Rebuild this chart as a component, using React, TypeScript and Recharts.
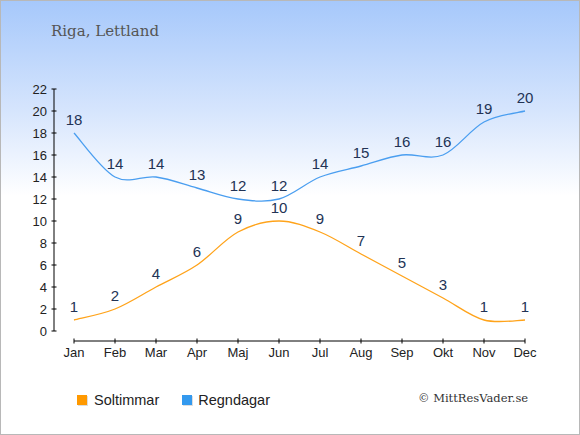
import React from "react";
import { LineChart, Line, XAxis, YAxis, LabelList } from "recharts";

const months = ["Jan", "Feb", "Mar", "Apr", "Maj", "Jun", "Jul", "Aug", "Sep", "Okt", "Nov", "Dec"];
const soltimmar = [1, 2, 4, 6, 9, 10, 9, 7, 5, 3, 1, 1];
const regndagar = [18, 14, 14, 13, 12, 12, 14, 15, 16, 16, 19, 20];
const yTicks = [0, 2, 4, 6, 8, 10, 12, 14, 16, 18, 20, 22];

const data = months.map((m, i) => ({ month: m, sol: soltimmar[i], regn: regndagar[i] }));

// Catmull-Rom style cardinal curve (tension 0)
const cardinalCurve = (context: any) => {
  let pts: number[][] = [];
  return {
    areaStart() {},
    areaEnd() {},
    lineStart() {
      pts = [];
    },
    point(x: number, y: number) {
      pts.push([+x, +y]);
    },
    lineEnd() {
      const n = pts.length;
      if (!n) return;
      context.moveTo(pts[0][0], pts[0][1]);
      if (n === 2) {
        context.lineTo(pts[1][0], pts[1][1]);
        return;
      }
      const k = 1 / 6;
      for (let i = 0; i < n - 1; i++) {
        const p0 = pts[i - 1] || pts[i];
        const p1 = pts[i];
        const p2 = pts[i + 1];
        const p3 = pts[i + 2] || pts[i + 1];
        context.bezierCurveTo(
          p1[0] + (p2[0] - p0[0]) * k,
          p1[1] + (p2[1] - p0[1]) * k,
          p2[0] - (p3[0] - p1[0]) * k,
          p2[1] - (p3[1] - p1[1]) * k,
          p2[0],
          p2[1]
        );
      }
    },
  };
};

const sans = "'Liberation Sans', Arial, sans-serif";
const serif = "'DejaVu Serif', Georgia, serif";

const TICK_GAP = 7; // tickSize + tickMargin
const HALF_TICK = 2.5;

const XTick = (props: any) => {
  const { x, y, payload } = props;
  const axisY = y - TICK_GAP;
  return (
    <g>
      <line x1={x} x2={x} y1={axisY - HALF_TICK} y2={axisY + HALF_TICK} stroke="#000" />
      <text x={x} y={y} dy="0.71em" textAnchor="middle" fill="#222" fontSize={13} fontFamily={sans}>
        {payload.value}
      </text>
    </g>
  );
};

const YTick = (props: any) => {
  const { x, y, payload } = props;
  const axisX = x + TICK_GAP;
  return (
    <g>
      <line x1={axisX - HALF_TICK} x2={axisX + HALF_TICK} y1={y} y2={y} stroke="#000" />
      <text x={x} y={y} dy="0.355em" textAnchor="end" fill="#222" fontSize={13} fontFamily={sans}>
        {payload.value}
      </text>
    </g>
  );
};

export default function App() {
  return (
    <div
      style={{
        position: "absolute",
        left: 0,
        top: 0,
        width: 580,
        height: 435,
        boxSizing: "border-box",
        border: "1px solid #b8b8b8",
        background: "linear-gradient(to bottom, #a6c8fb 0px, #d6e5fd 110px, #ffffff 195px, #ffffff 435px)",
        overflow: "hidden",
        fontFamily: sans,
      }}
    >
      <div
        style={{
          position: "absolute",
          left: 50,
          top: 21,
          fontFamily: serif,
          fontSize: 15,
          color: "#555",
          whiteSpace: "nowrap",
        }}
      >
        Riga, Lettland
      </div>
      <div style={{ position: "absolute", left: -1, top: -1 }}>
        <LineChart width={580} height={435} data={data} margin={{ top: 89, right: 55, left: 0, bottom: 0 }}>
          <XAxis
            dataKey="month"
            height={94}
            padding={{ left: 20, right: 0 }}
            interval={0}
            axisLine={{ stroke: "#000", strokeDasharray: "0 20 451 1000" }}
            tickLine={false}
            tick={<XTick />}
            tickSize={4}
            tickMargin={3}
          />
          <YAxis
            width={54}
            domain={[0, 22]}
            ticks={yTicks}
            interval={0}
            padding={{ top: 0, bottom: 10 }}
            axisLine={{ stroke: "#000", strokeDasharray: "242 1000" }}
            tickLine={false}
            tick={<YTick />}
            tickSize={4}
            tickMargin={3}
          />
          <Line
            dataKey="sol"
            type={cardinalCurve as any}
            stroke="#ffa31a"
            strokeWidth={1.3}
            dot={false}
            activeDot={false}
            isAnimationActive={false}
          >
            <LabelList dataKey="sol" position="top" offset={8} fill="#223355" fontSize={15} fontFamily={sans} />
          </Line>
          <Line
            dataKey="regn"
            type={cardinalCurve as any}
            stroke="#4a9ef0"
            strokeWidth={1.3}
            dot={false}
            activeDot={false}
            isAnimationActive={false}
          >
            <LabelList dataKey="regn" position="top" offset={8} fill="#223355" fontSize={15} fontFamily={sans} />
          </Line>
        </LineChart>
      </div>
      <div style={{ position: "absolute", left: 76, top: 391, display: "flex", alignItems: "center", fontSize: 14.5, color: "#222" }}>
        <span style={{ display: "inline-block", width: 10, height: 10, background: "#ff9900", boxShadow: "1px 1px 0 #ddd", marginRight: 7 }} />
        <span>Soltimmar</span>
        <span style={{ display: "inline-block", width: 10, height: 10, background: "#3399ee", boxShadow: "1px 1px 0 #ddd", marginLeft: 23, marginRight: 6 }} />
        <span>Regndagar</span>
      </div>
      <div
        style={{
          position: "absolute",
          left: 417,
          top: 390,
          fontFamily: serif,
          fontSize: 11.5,
          color: "#333",
          whiteSpace: "nowrap",
        }}
      >
        © MittResVader.se
      </div>
    </div>
  );
}
